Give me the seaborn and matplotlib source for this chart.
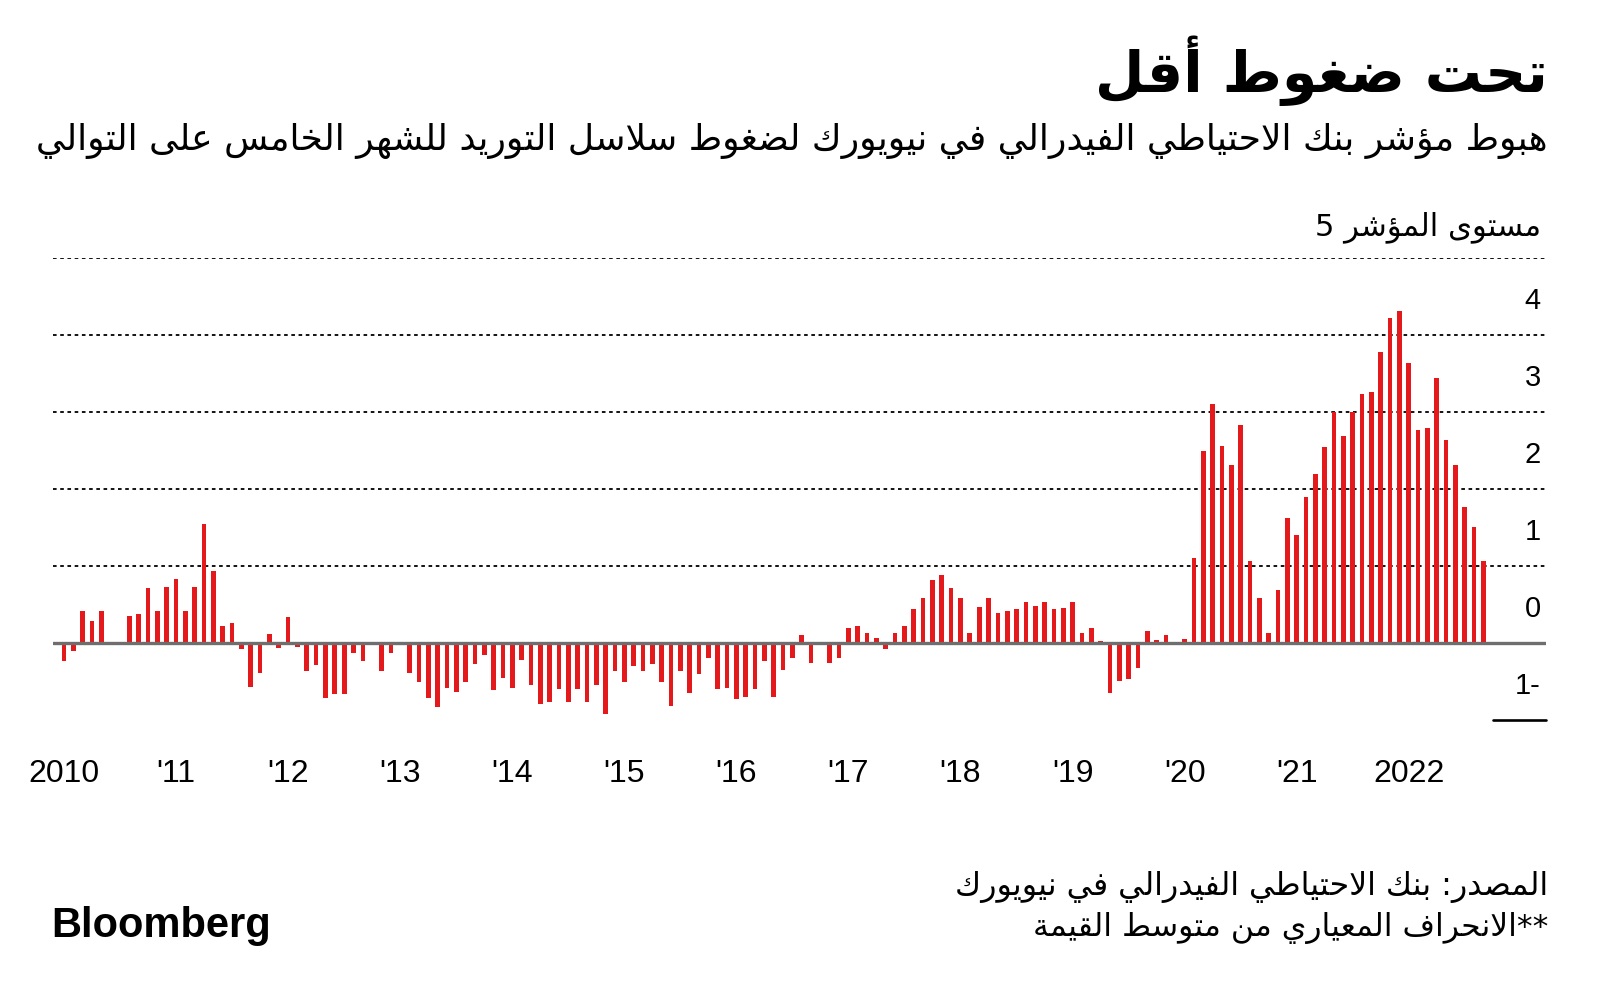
import numpy as np
import pandas as pd
import seaborn as sns
import matplotlib.pyplot as plt
import matplotlib.transforms as mtransforms

# NY Fed global supply chain pressure index, monthly Jan 2010 - Sep 2022
values = [
    -0.23, -0.10, 0.41, 0.28, 0.41, 0.0, 0.0, 0.35, 0.38, 0.71, 0.41, 0.73,
    0.83, 0.42, 0.73, 1.54, 0.93, 0.22, 0.26, -0.08, -0.57, -0.39, 0.12, -0.06,
    0.34, -0.05, -0.36, -0.29, -0.71, -0.66, -0.66, -0.13, -0.23, 0.0, -0.36, -0.13,
    -0.03, -0.39, -0.51, -0.72, -0.83, -0.59, -0.64, -0.51, -0.27, -0.15, -0.61, -0.46,
    -0.58, -0.22, -0.54, -0.79, -0.77, -0.60, -0.77, -0.60, -0.77, -0.54, -0.92, -0.37,
    -0.51, -0.30, -0.37, -0.27, -0.51, -0.82, -0.37, -0.65, -0.40, -0.20, -0.60, -0.58,
    -0.73, -0.70, -0.60, -0.23, -0.70, -0.35, -0.19, 0.11, -0.26, 0.0, -0.26, -0.19,
    0.20, 0.22, 0.13, 0.07, -0.08, 0.13, 0.22, 0.44, 0.58, 0.82, 0.88, 0.72,
    0.59, 0.13, 0.47, 0.58, 0.39, 0.41, 0.44, 0.53, 0.48, 0.53, 0.44, 0.46,
    0.53, 0.13, 0.20, 0.03, -0.65, -0.49, -0.47, -0.33, 0.15, 0.04, 0.11, 0.0,
    0.05, 1.11, 2.49, 3.11, 2.56, 2.31, 2.83, 1.07, 0.59, 0.13, 0.69, 1.62,
    1.40, 1.90, 2.19, 2.54, 3.00, 2.69, 3.00, 3.23, 3.26, 3.78, 4.22, 4.31,
    3.64, 2.76, 2.79, 3.44, 2.64, 2.31, 1.76, 1.51, 1.07,
]
year_labels = ["2010", "'11", "'12", "'13", "'14", "'15", "'16", "'17", "'18",
               "'19", "'20", "'21", "2022"]
y_levels = [4, 3, 2, 1, 0, -1]
y_labels = ["4", "3", "2", "1", "0", "1-"]

title = "تحت ضغوط أقل"
subtitle = "هبوط مؤشر بنك الاحتياطي الفيدرالي في نيويورك لضغوط سلاسل التوريد للشهر الخامس على التوالي"
unit_label = "مستوى المؤشر 5"
source = "المصدر: بنك الاحتياطي الفيدرالي في نيويورك"
note = "**الانحراف المعياري من متوسط القيمة"

RED = "#E3191C"
NUM_FONT = "Liberation Sans"

# matplotlib has no arabic shaping, so map letters to presentation forms by hand
AR_ORDER = "ءآأؤإئابةتثجحخدذرزسشصضطظعغفقكلمنهوىي"
DUAL = set("ئبتثجحخسشصضطظعغفقكلمنهي")
FORMS = {}
code = 0xFE80
for ch in AR_ORDER:
    n = 1 if ch == "ء" else (4 if ch in DUAL else 2)
    FORMS[ch] = [chr(code + k) for k in range(n)]
    code += n
LAM_ALEF = {"آ": 0xFEF5, "أ": 0xFEF7, "إ": 0xFEF9, "ا": 0xFEFB}


def rtl(text):
    units = []
    i = 0
    while i < len(text):
        ch = text[i]
        if ch == "ل" and i + 1 < len(text) and text[i + 1] in LAM_ALEF:
            c = LAM_ALEF[text[i + 1]]
            units.append(("LA", [chr(c), chr(c + 1)]))
            i += 2
            continue
        units.append((ch, FORMS.get(ch)))
        i += 1
    out = []
    for k, (ch, forms) in enumerate(units):
        if forms is None:
            out.append(ch)
            continue
        prev = units[k - 1] if k > 0 else None
        nxt = units[k + 1] if k + 1 < len(units) else None
        join_prev = prev is not None and prev[0] in DUAL
        join_next = ch in DUAL and nxt is not None and nxt[1] is not None and nxt[0] != "ء"
        if len(forms) == 1:
            out.append(forms[0])
        elif len(forms) == 2:
            out.append(forms[1] if join_prev else forms[0])
        else:
            out.append(forms[{(False, False): 0, (True, False): 1,
                              (False, True): 2, (True, True): 3}[(join_prev, join_next)]])
    return "".join(out)[::-1]


def fx(px):
    return px / 1600


def fy(py):
    return 1 - py / 1004


sns.set_style("white")
plt.rcParams["font.family"] = ["DejaVu Sans"]
plt.rcParams["text.color"] = "black"
plt.rcParams["xtick.color"] = "black"

df = pd.DataFrame({"month": np.arange(len(values)), "value": values})

fig = plt.figure(figsize=(16, 10.04), dpi=100)
ax = fig.add_axes([fx(53), fy(721), 1493 / 1600, 462 / 1004])

sns.barplot(data=df, x="month", y="value", native_scale=True, color=RED,
            saturation=1, width=0.5, linewidth=0, edgecolor=RED, ax=ax, zorder=2)
# make the bars about half the month spacing
for p in ax.patches:
    cx = p.get_x() + p.get_width() / 2
    p.set_width(0.5)
    p.set_x(cx - 0.25)
    p.set_linewidth(0)

ax.set_xlim(-1.18, 158.7)
ax.set_ylim(-1, 5)
for s in ax.spines.values():
    s.set_visible(False)

# dotted gridlines
ax.set_yticks([1, 2, 3, 4, 5])
ax.yaxis.grid(True, color="black", linestyle=(0, (2, 2)), linewidth=1.3)
ax.tick_params(axis="y", length=0, labelleft=False)
ax.axhline(0, color="#6e6e6e", lw=2.4, zorder=3)
ax.axhline(-1, xmin=(1493 - 53) / 1493, xmax=1, color="black", lw=1.9, clip_on=False)

ax.set_xticks(np.arange(0, len(values) + 3, 12))
ax.set_xticklabels(year_labels, fontfamily=NUM_FONT, fontsize=23, color="black")
ax.tick_params(axis="x", length=9.5, width=2.4, color="black", pad=18, direction="out")
ax.set_xlabel("")
ax.set_ylabel("")

trans = mtransforms.blended_transform_factory(ax.transAxes, ax.transData)
for v, lab in zip(y_levels, y_labels):
    ax.text(0.9965, v + 0.45, lab, transform=trans, ha="right", va="center",
            fontsize=21, fontfamily=NUM_FONT, color="black")

fig.text(fx(1548), fy(71), rtl(title), ha="right", va="center",
         fontsize=41, fontweight="bold", color="black")
fig.text(fx(1548), fy(141), rtl(subtitle), ha="right", va="center", fontsize=26,
         color="black")
fig.text(fx(1541), fy(227), rtl(unit_label), ha="right", va="center", fontsize=22.1,
         color="black")
fig.text(fx(1548), fy(887), rtl(source), ha="right", va="center", fontsize=22.8,
         color="black")
fig.text(fx(1548), fy(928), rtl(note), ha="right", va="center", fontsize=22.6,
         color="black")
fig.text(fx(51), fy(926), "Bloomberg", ha="left", va="center", fontsize=30,
         fontweight="heavy", fontfamily="Liberation Sans", color="black")

fig.savefig("out.png", dpi=100)
